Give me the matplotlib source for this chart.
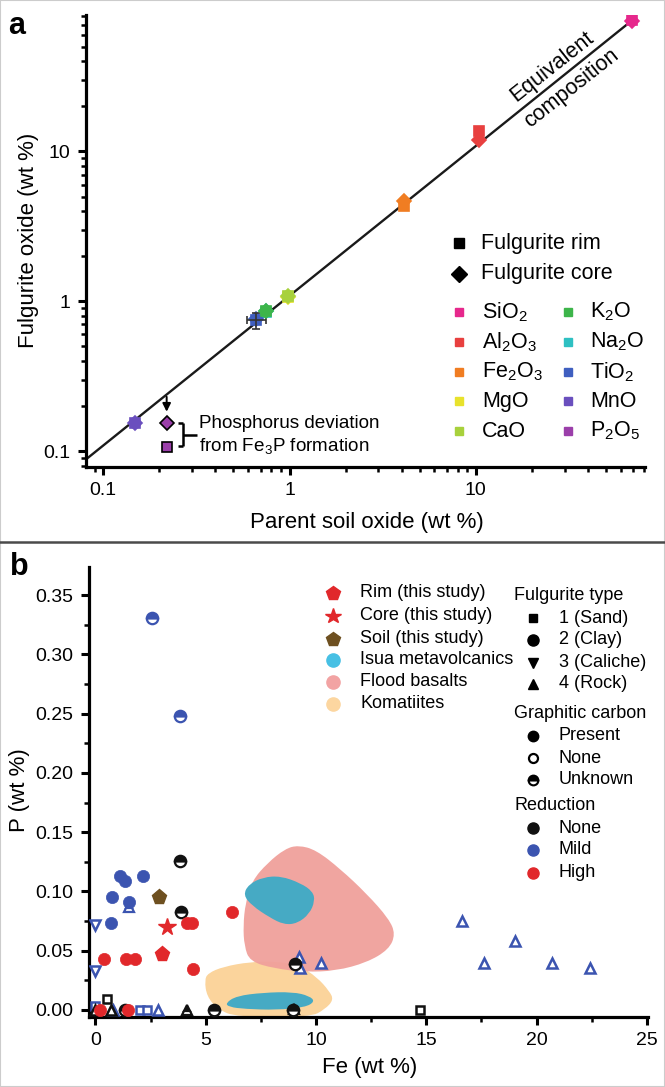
import matplotlib
matplotlib.use('Agg')
import matplotlib.pyplot as plt
from matplotlib.lines import Line2D
from matplotlib.patches import PathPatch, Rectangle
from matplotlib.path import Path
import numpy as np

plt.rcParams['font.family'] = ['Liberation Sans', 'DejaVu Sans']
plt.rcParams['mathtext.fontset'] = 'custom'
plt.rcParams['mathtext.rm'] = 'Liberation Sans'
plt.rcParams['mathtext.it'] = 'Liberation Sans:italic'
plt.rcParams['mathtext.bf'] = 'Liberation Sans:bold'

# ---------------- Panel a data ----------------
oxides = ['SiO$_2$', 'Al$_2$O$_3$', 'Fe$_2$O$_3$', 'MgO', 'CaO',
          'K$_2$O', 'Na$_2$O', 'TiO$_2$', 'MnO', 'P$_2$O$_5$']
oxide_colors = ['#e6288c', '#e8403f', '#f07d22', '#e8e22c', '#a8d13c',
                '#3db54a', '#2ec0c2', '#3f5fc0', '#6a4fbe', '#9b3faa']
soil_oxide = [69.0, 10.4, 4.13, 0.98, 0.98, 0.746, 0.746, 0.664, 0.1476, 0.219]
rim_oxide = [75.0, 13.6, 4.30, 1.06, 1.08, 0.858, 0.85, 0.755, 0.153, 0.107]
core_oxide = [74.0, 12.0, 4.64, 1.07, 1.09, 0.862, 0.86, 0.76, 0.153, 0.1545]
oxide_z = [5, 5, 5, 3, 5, 5, 3, 4, 5, 5]
tio2_xerr = [[0.071], [0.086]]
tio2_yerr = [[0.100], [0.082]]
equiv_x = [0.0808, 69.0]
equiv_y = [0.0880, 75.0]
arrow_x = 0.219
arrow_y = [0.230, 0.183]

# ---------------- Panel b data ----------------
lit_fe = [2.56, 3.85, 3.85, 1.12, 1.35, 2.17, 0.77, 1.54, 0.71, 1.54,
          0.0, 0.0, 3.88, 4.13, 4.37, 6.21, 0.38, 1.38, 1.79, 4.42,
          9.04, 9.23, 9.29, 10.23, 16.63, 17.6, 19.0, 20.7, 22.4,
          0.0, 0.0, 0.2, 0.51, 0.8, 0.69, 1.5, 1.34, 2.0, 2.35,
          2.85, 4.14, 5.39, 9.0, 8.97, 14.71]
lit_p = [0.331, 0.248, 0.126, 0.113, 0.109, 0.113, 0.095, 0.0915, 0.073, 0.087,
         0.072, 0.0325, 0.0825, 0.0735, 0.0735, 0.0825, 0.043, 0.043, 0.043, 0.0345,
         0.039, 0.045, 0.035, 0.040, 0.075, 0.040, 0.058, 0.040, 0.035,
         0.003, 0.0, 0.0, 0.009, 0.0, 0.0, 0.0, 0.0, 0.0, 0.0,
         0.0, 0.0, 0.0, 0.001, 0.0, 0.0]
lit_type = ['clay', 'clay', 'clay', 'clay', 'clay', 'clay', 'clay', 'clay', 'clay', 'rock',
            'caliche', 'caliche', 'clay', 'clay', 'clay', 'clay', 'clay', 'clay', 'clay', 'clay',
            'clay', 'rock', 'rock', 'rock', 'rock', 'rock', 'rock', 'rock', 'rock',
            'sand', 'rock', 'clay', 'sand', 'rock', 'rock', 'clay', 'clay', 'sand', 'sand',
            'rock', 'rock', 'clay', 'rock', 'clay', 'sand']
lit_carbon = ['unknown', 'unknown', 'unknown', 'present', 'present', 'present', 'present', 'present', 'present', 'unknown',
              'none', 'none', 'unknown', 'present', 'present', 'present', 'present', 'present', 'present', 'present',
              'unknown', 'none', 'none', 'none', 'none', 'none', 'none', 'none', 'none',
              'none', 'none', 'present', 'none', 'none', 'none', 'present', 'unknown', 'none', 'none',
              'none', 'unknown', 'unknown', 'unknown', 'unknown', 'none']
lit_reduction = ['mild', 'mild', 'none', 'mild', 'mild', 'mild', 'mild', 'mild', 'mild', 'mild',
                 'mild', 'mild', 'none', 'high', 'high', 'high', 'high', 'high', 'high', 'high',
                 'none', 'mild', 'mild', 'mild', 'mild', 'mild', 'mild', 'mild', 'mild',
                 'mild', 'none', 'high', 'none', 'mild', 'none', 'high', 'none', 'mild', 'mild',
                 'mild', 'none', 'none', 'none', 'none', 'none']

rim_fe, rim_p = [3.0], [0.0475]
core_fe, core_p = [3.23], [0.0698]
soil_fe, soil_p = [2.88], [0.0955]

# region outlines (control points of smooth closed curves)
flood_x = [9.2, 10.0, 11.1, 12.3, 13.3, 13.6, 13.3, 12.3, 10.9, 9.5,
           8.1, 7.0, 6.75, 6.7, 6.8, 7.1, 7.8, 8.6]
flood_y = [0.139, 0.135, 0.119, 0.098, 0.077, 0.064, 0.051, 0.040, 0.033, 0.032,
           0.035, 0.041, 0.054, 0.071, 0.090, 0.109, 0.124, 0.136]
isua1_x = [6.7, 6.95, 7.6, 8.4, 9.3, 9.85, 9.95, 9.7, 9.15, 8.55, 7.9, 7.1]
isua1_y = [0.097, 0.106, 0.112, 0.113, 0.107, 0.100, 0.092, 0.081, 0.073, 0.072, 0.078, 0.088]
isua2_x = [5.9, 6.4, 7.6, 8.95, 9.7, 9.95, 9.5, 8.2, 6.8, 6.05]
isua2_y = [0.0058, 0.0118, 0.0146, 0.0152, 0.0118, 0.0071, 0.0022, 0.0000, 0.0008, 0.0025]
koma_x = [4.95, 5.1, 5.8, 7.0, 8.2, 9.25, 10.05, 10.6, 10.8, 10.4, 9.75, 6.4, 5.55, 5.05]
koma_y = [0.025, 0.0310, 0.0365, 0.0405, 0.0410, 0.0375, 0.0275, 0.0160, 0.0085, 0.0005,
          -0.006, -0.006, 0.0005, 0.0115]

W, H = 665, 1087


def fx(px):
    return px / W


def fy(py):
    return 1 - py / H


def smooth_closed_path(xs, ys):
    pts = np.column_stack([xs, ys])
    n = len(pts)
    mids = (pts + np.roll(pts, -1, axis=0)) / 2.0
    verts = [mids[-1]]
    codes = [Path.MOVETO]
    for i in range(n):
        verts.append(pts[i])
        verts.append(mids[i])
        codes += [Path.CURVE3, Path.CURVE3]
    verts.append(mids[-1])
    codes.append(Path.CLOSEPOLY)
    return Path(np.array(verts), codes)


fig = plt.figure(figsize=(W / 100, H / 100), dpi=100)

TICK_FS = 14
LABEL_FS = 16

# ================= Panel a =================
ax1 = fig.add_axes([fx(86), fy(466.7), fx(645) - fx(86), fy(15) - fy(466.7)])
ax1.set_xscale('log')
ax1.set_yscale('log')
ax1.set_xlim(0.0808, 81)
ax1.set_ylim(0.0786, 81.5)
for s in ['top', 'right']:
    ax1.spines[s].set_visible(False)
for s in ['left', 'bottom']:
    ax1.spines[s].set_linewidth(2.3)
ax1.set_xticks([0.1, 1, 10])
ax1.set_xticklabels(['0.1', '1', '10'])
ax1.set_yticks([0.1, 1, 10])
ax1.set_yticklabels(['0.1', '1', '10'])
ax1.tick_params(which='major', length=6, width=2.2, pad=5, labelsize=TICK_FS)
ax1.tick_params(which='minor', length=3.5, width=1.8)

ax1.plot(equiv_x, equiv_y, color='#1a1a1a', lw=1.7, zorder=2)

for i, name in enumerate(oxides):
    c = oxide_colors[i]
    ec = 'black' if i == 9 else c
    ax1.plot(soil_oxide[i], rim_oxide[i], marker='s', ms=7.5, color=c, mec=ec, mew=1.2,
             ls='none', zorder=oxide_z[i])
    ax1.plot(soil_oxide[i], core_oxide[i], marker='D', ms=7.5, color=c, mec=ec, mew=1.2,
             ls='none', zorder=oxide_z[i])

ax1.errorbar([soil_oxide[7]], [rim_oxide[7]], xerr=tio2_xerr, yerr=tio2_yerr,
             fmt='none', ecolor='#333333', elinewidth=1.2, capsize=3, capthick=1.2, zorder=4)
ax1.errorbar([soil_oxide[5]], [rim_oxide[5]], xerr=[[0.02], [0.02]], yerr=[[0.03], [0.03]],
             fmt='none', ecolor='#333333', elinewidth=1.0, capsize=2, capthick=1.0, zorder=4.5)

ax1.annotate('', xy=(arrow_x, arrow_y[1]), xytext=(arrow_x, arrow_y[0]),
             arrowprops=dict(arrowstyle='-|>', color='black', lw=1.4,
                             mutation_scale=12, shrinkA=0, shrinkB=0))

ax1.set_xlabel('Parent soil oxide (wt %)', fontsize=LABEL_FS)
ax1.xaxis.set_label_coords((367 - 86) / 559, (466.7 - 522.7) / 451.7)
ax1.xaxis.label.set_verticalalignment('center')
ax1.set_ylabel('Fulgurite oxide (wt %)', fontsize=LABEL_FS)
ax1.yaxis.set_label_coords((29 - 86) / 559, 0.5)
ax1.yaxis.label.set_verticalalignment('center')

# Equivalent composition text
fig.text(fx(551.7), fy(66.7), 'Equivalent', fontsize=15.5, rotation=38.3,
         ha='center', va='center', rotation_mode='anchor')
fig.text(fx(571.7), fy(88.3), 'composition', fontsize=15.5, rotation=38.3,
         ha='center', va='center', rotation_mode='anchor')

# bracket + annotation
bk = dict(color='black', lw=1.8, solid_capstyle='butt')
fig.add_artist(Line2D([fx(183.3), fx(183.3)], [fy(423.3), fy(446)], transform=fig.transFigure, **bk))
fig.add_artist(Line2D([fx(178.3), fx(183.3)], [fy(423.3), fy(423.3)], transform=fig.transFigure, **bk))
fig.add_artist(Line2D([fx(178.3), fx(183.3)], [fy(446), fy(446)], transform=fig.transFigure, **bk))
fig.add_artist(Line2D([fx(183.3), fx(196.5)], [fy(435), fy(435)], transform=fig.transFigure, **bk))
fig.text(fx(199), fy(423.3), 'Phosphorus deviation', fontsize=13.6, ha='left', va='center')
fig.text(fx(199), fy(446), 'from Fe$_3$P formation', fontsize=13.6, ha='left', va='center')

# legend a
LEG_A_FS = 15.5
fig.add_artist(Line2D([fx(459)], [fy(243)], transform=fig.transFigure, marker='s', ms=6.5,
                      color='black', ls='none'))
fig.text(fx(481), fy(243), 'Fulgurite rim', fontsize=LEG_A_FS, ha='left', va='center')
fig.add_artist(Line2D([fx(459)], [fy(274)], transform=fig.transFigure, marker='D', ms=8.5,
                      color='black', ls='none'))
fig.text(fx(481), fy(274), 'Fulgurite core', fontsize=LEG_A_FS, ha='left', va='center')
rows_y = [312, 341.7, 371.7, 401, 431]
for i, name in enumerate(oxides):
    col = i // 5
    row = i % 5
    mx = 459 if col == 0 else 568
    tx = 482 if col == 0 else 590
    fig.add_artist(Line2D([fx(mx)], [fy(rows_y[row])], transform=fig.transFigure, marker='s',
                          ms=6, color=oxide_colors[i], ls='none'))
    fig.text(fx(tx), fy(rows_y[row]), name, fontsize=LEG_A_FS, ha='left', va='center')

# ================= Panel b =================
ax2 = fig.add_axes([fx(89), fy(1016.7), fx(647.6) - fx(89), fy(567.3) - fy(1016.7)])
ax2.set_xlim(-0.29, 25.03)
ax2.set_ylim(-0.0057, 0.3735)
for s in ['top', 'right']:
    ax2.spines[s].set_visible(False)
for s in ['left', 'bottom']:
    ax2.spines[s].set_linewidth(2.3)
ax2.set_xticks([0, 5, 10, 15, 20, 25])
ax2.set_xticks([2.5, 7.5, 12.5, 17.5, 22.5], minor=True)
ax2.set_yticks([0, 0.05, 0.10, 0.15, 0.20, 0.25, 0.30, 0.35])
ax2.set_yticklabels(['0.00', '0.05', '0.10', '0.15', '0.20', '0.25', '0.30', '0.35'])
ax2.set_yticks([0.025, 0.075, 0.125, 0.175, 0.225, 0.275, 0.325], minor=True)
ax2.tick_params(which='major', length=6, width=2.2, pad=5, labelsize=TICK_FS)
ax2.tick_params(which='minor', length=3.5, width=1.8)

koma_col = '#fbd49c'
flood_col = '#f0a09b'
isua_col = '#46aac4'
ax2.add_patch(PathPatch(smooth_closed_path(koma_x, koma_y), facecolor=koma_col,
                        edgecolor='none', zorder=1, clip_on=True))
ax2.add_patch(PathPatch(smooth_closed_path(flood_x, flood_y), facecolor=flood_col,
                        edgecolor='none', alpha=0.95, zorder=1.5))
ax2.add_patch(PathPatch(smooth_closed_path(isua1_x, isua1_y), facecolor=isua_col,
                        edgecolor='none', zorder=2))
ax2.add_patch(PathPatch(smooth_closed_path(isua2_x, isua2_y), facecolor=isua_col,
                        edgecolor='none', zorder=2))

type_marker = {'sand': 's', 'clay': 'o', 'caliche': 'v', 'rock': '^'}
type_ms = {'sand': 7.0, 'clay': 8.8, 'caliche': 8.0, 'rock': 8.0}
red_color = {'none': '#111111', 'mild': '#3b54b0', 'high': '#e1282b'}

for fe, p, t, cb, rd in zip(lit_fe, lit_p, lit_type, lit_carbon, lit_reduction):
    c = red_color[rd]
    m = type_marker[t]
    ms = type_ms[t]
    if cb == 'present':
        ax2.plot(fe, p, marker=m, ms=ms, color=c, mec=c, mew=0.5, ls='none', zorder=4)
    elif cb == 'none':
        ax2.plot(fe, p, marker=m, ms=ms - 1.2, mfc='white', mec=c, mew=1.8, ls='none', zorder=3.5)
    else:
        ax2.plot(fe, p, marker=m, ms=ms - 0.6, color=c, mfc=c, mfcalt='white', fillstyle='top',
                 mec=c, mew=1.6, ls='none', zorder=3.8)

ax2.plot(rim_fe, rim_p, marker='p', ms=11, color='#e1282b', ls='none', zorder=5)
ax2.plot(core_fe, core_p, marker='*', ms=13, color='#e1282b', ls='none', zorder=5)
ax2.plot(soil_fe, soil_p, marker='p', ms=11, color='#6e5020', ls='none', zorder=5)

ax2.set_xlabel('Fe (wt %)', fontsize=LABEL_FS)
ax2.xaxis.set_label_coords((370 - 89) / 558.6, (1016.7 - 1068) / 449.4)
ax2.xaxis.label.set_verticalalignment('center')
ax2.set_ylabel('P (wt %)', fontsize=LABEL_FS)
ax2.yaxis.set_label_coords((19 - 89) / 558.6, (1016.7 - 790) / 449.4)
ax2.yaxis.label.set_verticalalignment('center')

# legend b, column 1
LEG_B_FS = 13
leg1_labels = ['Rim (this study)', 'Core (this study)', 'Soil (this study)',
               'Isua metavolcanics', 'Flood basalts', 'Komatiites']
leg1_markers = ['p', '*', 'p', 'o', 'o', 'o']
leg1_colors = ['#e1282b', '#e1282b', '#6e5020', '#47c0e4', '#f2a3a3', '#fcd6a0']
leg1_ms = [10.5, 11.5, 10.5, 9.5, 9.5, 9.5]
leg1_y = [592.7, 616, 638.7, 660, 682, 704]
for lab, mk, c, ms, yy in zip(leg1_labels, leg1_markers, leg1_colors, leg1_ms, leg1_y):
    fig.add_artist(Line2D([fx(333)], [fy(yy)], transform=fig.transFigure, marker=mk, ms=ms,
                          color=c, ls='none'))
    fig.text(fx(360), fy(yy), lab, fontsize=LEG_B_FS, ha='left', va='center')

# legend b, column 2
headers = [('Fulgurite type', 595.7), ('Graphitic carbon', 714), ('Reduction', 806)]
for lab, yy in headers:
    fig.text(fx(514), fy(yy), lab, fontsize=LEG_B_FS, ha='left', va='center')

type_labels = ['1 (Sand)', '2 (Clay)', '3 (Caliche)', '4 (Rock)']
type_keys = ['sand', 'clay', 'caliche', 'rock']
type_y = [618.3, 640, 662.7, 684]
for lab, k, yy in zip(type_labels, type_keys, type_y):
    fig.add_artist(Line2D([fx(532.5)], [fy(yy)], transform=fig.transFigure, marker=type_marker[k],
                          ms=type_ms[k] - 0.8, color='black', ls='none'))
    fig.text(fx(559), fy(yy), lab, fontsize=LEG_B_FS, ha='left', va='center')

carbon_labels = ['Present', 'None', 'Unknown']
carbon_y = [735.7, 758.3, 780]
fig.add_artist(Line2D([fx(532.5)], [fy(carbon_y[0])], transform=fig.transFigure, marker='o',
                      ms=7.5, color='black', ls='none'))
fig.add_artist(Line2D([fx(532.5)], [fy(carbon_y[1])], transform=fig.transFigure, marker='o',
                      ms=6.5, mfc='white', mec='black', mew=1.6, ls='none'))
fig.add_artist(Line2D([fx(532.5)], [fy(carbon_y[2])], transform=fig.transFigure, marker='o',
                      ms=7, mfc='black', mfcalt='white', fillstyle='top', mec='black', mew=1.5,
                      ls='none'))
for lab, yy in zip(carbon_labels, carbon_y):
    fig.text(fx(559), fy(yy), lab, fontsize=LEG_B_FS, ha='left', va='center')

red_labels = ['None', 'Mild', 'High']
red_keys = ['none', 'mild', 'high']
red_y = [828.3, 850, 872.7]
for lab, k, yy in zip(red_labels, red_keys, red_y):
    fig.add_artist(Line2D([fx(532.5)], [fy(yy)], transform=fig.transFigure, marker='o',
                          ms=8, color=red_color[k], ls='none'))
    fig.text(fx(559), fy(yy), lab, fontsize=LEG_B_FS, ha='left', va='center')

# panel labels
fig.text(fx(17), fy(26), 'a', fontsize=22, fontweight='bold', ha='center', va='center')
fig.text(fx(19), fy(567), 'b', fontsize=22, fontweight='bold', ha='center', va='center')

# divider and border
fig.add_artist(Line2D([0, 1], [fy(541.7), fy(541.7)], transform=fig.transFigure,
                      color='#4a4a4a', lw=1.8))
fig.add_artist(Rectangle((0, 0), 1, 1, transform=fig.transFigure, fill=False,
                         edgecolor='#cccccc', lw=1.5))

fig.savefig('out.png', dpi=100)
